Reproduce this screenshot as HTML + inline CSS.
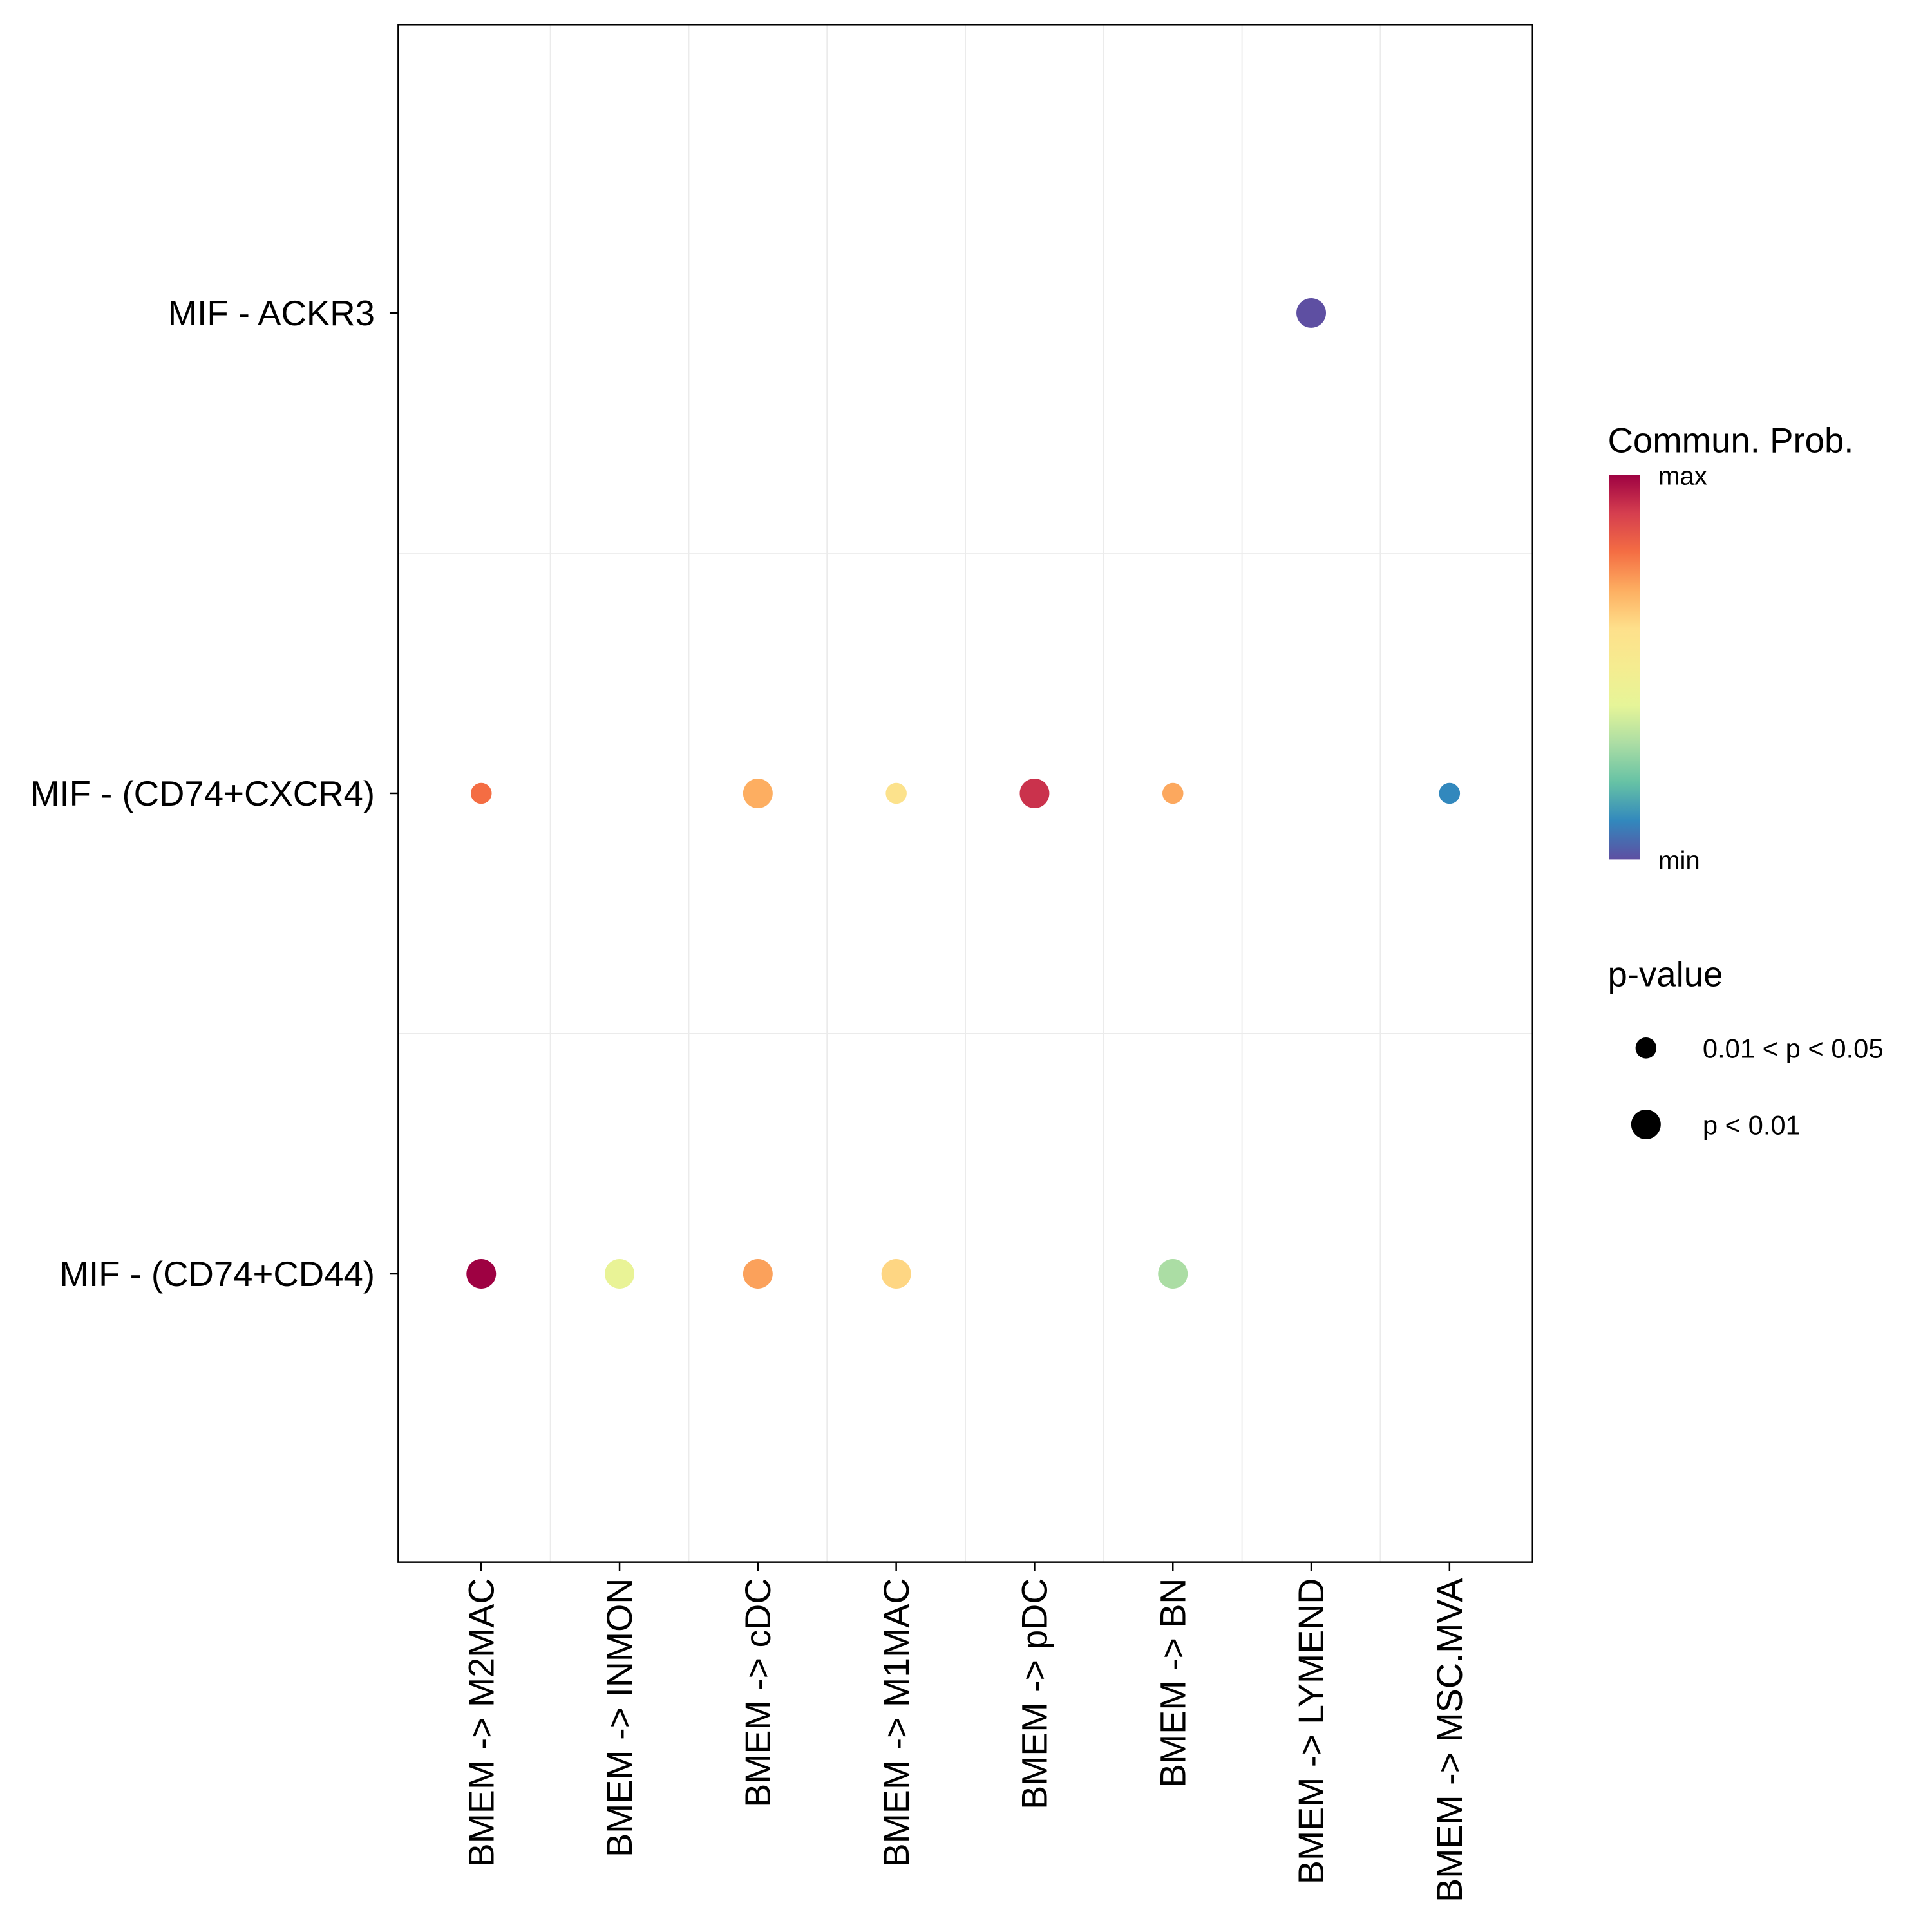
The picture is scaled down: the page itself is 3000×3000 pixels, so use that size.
<!DOCTYPE html>
<html><head><meta charset="utf-8"><style>html,body{margin:0;padding:0;background:#fff}svg{display:block}text{font-family:"Liberation Sans",sans-serif;fill:#000}</style></head>
<body>
<svg id="chart" width="3000" height="3000" viewBox="0 0 1567 1567" xmlns="http://www.w3.org/2000/svg">
<defs><linearGradient id="spec" x1="0" y1="1" x2="0" y2="0">
<stop offset="0" stop-color="#5E4FA2"/><stop offset="0.1" stop-color="#3288BD"/><stop offset="0.2" stop-color="#66C2A5"/><stop offset="0.3" stop-color="#ABDDA4"/><stop offset="0.4" stop-color="#E6F598"/><stop offset="0.5" stop-color="#F5EC90"/><stop offset="0.6" stop-color="#FEE08B"/><stop offset="0.7" stop-color="#FDAE61"/><stop offset="0.8" stop-color="#F46D43"/><stop offset="0.9" stop-color="#D53E4F"/><stop offset="1" stop-color="#9E0142"/></linearGradient></defs>
<g id="grid"></g>
<g id="dots"></g>
<rect x="323" y="20" width="920" height="1247" fill="none" stroke="#000" stroke-width="1.3"/>
<g id="axes"></g>
<g>
<text x="1304" y="367" font-size="28.5">Commun. Prob.</text>
<rect x="1305" y="385" width="25" height="312" fill="url(#spec)"/>
<text x="1345" y="393" font-size="21">max</text>
<text x="1345" y="705" font-size="21">min</text>
</g>
<g>
<text x="1304" y="800" font-size="28.5">p-value</text>
<circle cx="1335" cy="850" r="8.5" fill="#000"/>
<text x="1381" y="858" font-size="21.8">0.01 &lt; p &lt; 0.05</text>
<circle cx="1335" cy="912" r="12" fill="#000"/>
<text x="1381" y="920" font-size="21.8">p &lt; 0.01</text>
</g>
</svg>
<script>
const categories = ["BMEM -> M2MAC","BMEM -> INMON","BMEM -> cDC","BMEM -> M1MAC","BMEM -> pDC","BMEM -> BN","BMEM -> LYMEND","BMEM -> MSC.MVA"];
const pairs = ["MIF - ACKR3","MIF - (CD74+CXCR4)","MIF - (CD74+CD44)"];
// prob: 0..1 scaled; null = absent
const probACKR3 = [null,null,null,null,null,null,0.0,null];
const probCXCR4 = [0.8,null,0.7,0.58,0.92,0.71,null,0.1];
const probCD44  = [1.0,0.42,0.72,0.62,null,0.3,null,null];
// pval class: 1 = p<0.01, 0 = 0.01<p<0.05
const pvACKR3 = [null,null,null,null,null,null,1,null];
const pvCXCR4 = [0,null,1,0,1,0,null,0];
const pvCD44  = [1,1,1,1,null,1,null,null];

const NS="http://www.w3.org/2000/svg";
const X0=323,W=920,Y0=20,H=1247;
const xStep=W/(categories.length-1+1.2);
const yStep=H/(pairs.length-1+1.2);
const xPos=i=>X0+(0.6+i)*xStep;
const yPos=j=>Y0+(0.6+j)*yStep;
const stops=["#5E4FA2","#3288BD","#66C2A5","#ABDDA4","#E6F598","#F5EC90","#FEE08B","#FDAE61","#F46D43","#D53E4F","#9E0142"];
function hex(c){return [1,3,5].map(k=>parseInt(c.substr(k,2),16));}
function color(v){const t=v*(stops.length-1);const i=Math.min(Math.floor(t),stops.length-2);const f=t-i;const a=hex(stops[i]),b=hex(stops[i+1]);return "rgb("+a.map((x,k)=>Math.round(x+(b[k]-x)*f)).join(",")+")";}
function mk(tag,attrs,parent){const e=document.createElementNS(NS,tag);for(const k in attrs)e.setAttribute(k,attrs[k]);parent.appendChild(e);return e;}
const grid=document.getElementById('grid'),dots=document.getElementById('dots'),axes=document.getElementById('axes');
for(let i=0;i<categories.length-1;i++){const x=(xPos(i)+xPos(i+1))/2;
 const l=mk('line',{x1:x,x2:x,y1:Y0,y2:Y0+H,stroke:'#ebebeb','stroke-width':1},grid);
 
 }
for(let j=0;j<pairs.length-1;j++){const y=(yPos(j)+yPos(j+1))/2;
 const l=mk('line',{x1:X0,x2:X0+W,y1:y,y2:y,stroke:'#ebebeb','stroke-width':1},grid);
 
 }
const probs=[probACKR3,probCXCR4,probCD44],pvs=[pvACKR3,pvCXCR4,pvCD44];
probs.forEach((row,j)=>row.forEach((v,i)=>{if(v===null)return;
 const c=mk('circle',{cx:xPos(i),cy:yPos(j),r:pvs[j][i]?12:8.5,fill:color(v)},dots);
 
 }));
categories.forEach((c,i)=>{const x=xPos(i);
 const t=mk('line',{x1:x,x2:x,y1:Y0+H,y2:Y0+H+7,stroke:'#000','stroke-width':1.3},axes);
 
 
 const tx=mk('text',{x:0,y:0,'font-size':29,'text-anchor':'end',transform:`translate(${x+10},${Y0+H+13}) rotate(-90)`},axes);
 tx.textContent=c;
 
 });
pairs.forEach((p,j)=>{const y=yPos(j);
 const t=mk('line',{x1:X0-7,x2:X0,y1:y,y2:y,stroke:'#000','stroke-width':1.3},axes);
 
 
 const tx=mk('text',{x:X0-19,y:y+10,'font-size':28.5,'text-anchor':'end'},axes);
 tx.textContent=p;
 
 });
</script>
</body></html>
